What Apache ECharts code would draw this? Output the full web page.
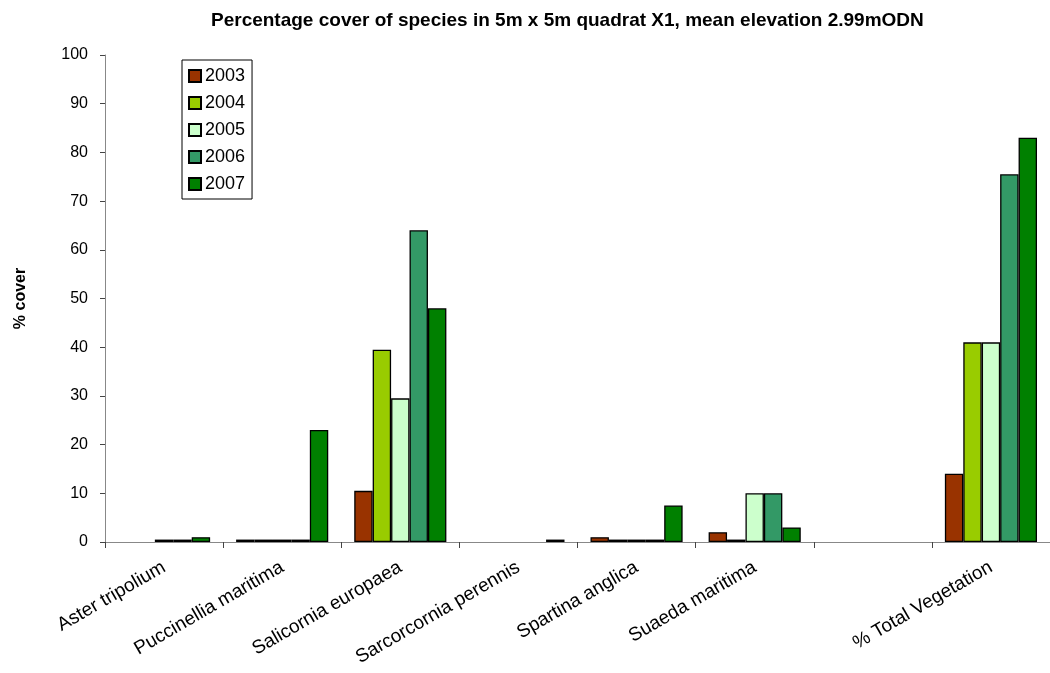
<!DOCTYPE html>
<html><head><meta charset="utf-8">
<script src="https://cdn.jsdelivr.net/npm/echarts@6/dist/echarts.min.js"></script>
<style>html,body{margin:0;padding:0;background:#fff}#c{width:1050px;height:673px}</style>
</head><body><div id="c"></div>
<script>
const categories = ['Aster tripolium','Puccinellia maritima','Salicornia europaea','Sarcorcornia perennis','Spartina anglica','Suaeda maritima','','% Total Vegetation'];
const years = ['2003','2004','2005','2006','2007'];
const v2003 = [null, 0.5, 10.5, null, 1, 2, null, 14];
const v2004 = [null, 0.5, 39.5, null, 0.5, 0.5, null, 41];
const v2005 = [0.5, 0.5, 29.5, null, 0.5, 10, null, 41];
const v2006 = [0.5, 0.5, 64, null, 0.5, 10, null, 75.5];
const v2007 = [1, 23, 48, 0.5, 7.5, 3, null, 83];
const yTicks = [0,10,20,30,40,50,60,70,80,90,100];
const colors = ['#993300','#99CC00','#CCFFCC','#339966','#008000'];
const values = [v2003, v2004, v2005, v2006, v2007];

const chart = echarts.init(document.getElementById('c'));
chart.setOption({
  animation: false,
  textStyle: {fontFamily: 'Liberation Sans, Arial, sans-serif'},
  title: {
    text: 'Percentage cover of species in 5m x 5m quadrat X1, mean elevation 2.99mODN',
    left: 206, top: 6,
    textStyle: {fontSize: 19, fontWeight: 'bold', color: '#000', fontFamily: 'Liberation Sans, Arial, sans-serif'}
  },
  legend: {
    orient: 'vertical', left: 182, top: 60,
    padding: [7, 7, 6, 6],
    itemGap: 9, itemWidth: 12, itemHeight: 12,
    borderColor: '#000', borderWidth: 1, backgroundColor: '#fff',
    icon: 'rect',
    textStyle: {fontSize: 18, color: '#000', padding: [0,0,0,-1]},
    data: years
  },
  grid: {left: 105, right: -4, top: 55, bottom: 131, containLabel: false},
  xAxis: {
    type: 'category', data: categories,
    axisLine: {lineStyle: {color: '#888', width: 1}},
    axisTick: {show: true, alignWithLabel: false, length: 6, lineStyle: {color: '#444'}},
    axisLabel: {
      rotate: 30, interval: 0, fontSize: 19, color: '#000', margin: 24
    }
  },
  yAxis: {
    type: 'value', min: 0, max: 100, interval: 10,
    name: '% cover', nameLocation: 'middle', nameGap: 76, nameRotate: 90,
    nameTextStyle: {fontSize: 16, fontWeight: 'bold', color: '#000'},
    axisLine: {show: true, lineStyle: {color: '#888', width: 1}},
    axisTick: {show: true, length: 5, lineStyle: {color: '#444'}},
    axisLabel: {fontSize: 16, color: '#000', margin: 17, formatter: v => yTicks.includes(v) ? String(v) : ''},
    splitLine: {show: false}
  },
  series: years.map((y, i) => ({
    name: y, type: 'bar', data: values[i],
    barGap: '0%', barCategoryGap: '22%',
    itemStyle: {color: colors[i], borderColor: '#000', borderWidth: 1.3}
  }))
});
</script></body></html>
